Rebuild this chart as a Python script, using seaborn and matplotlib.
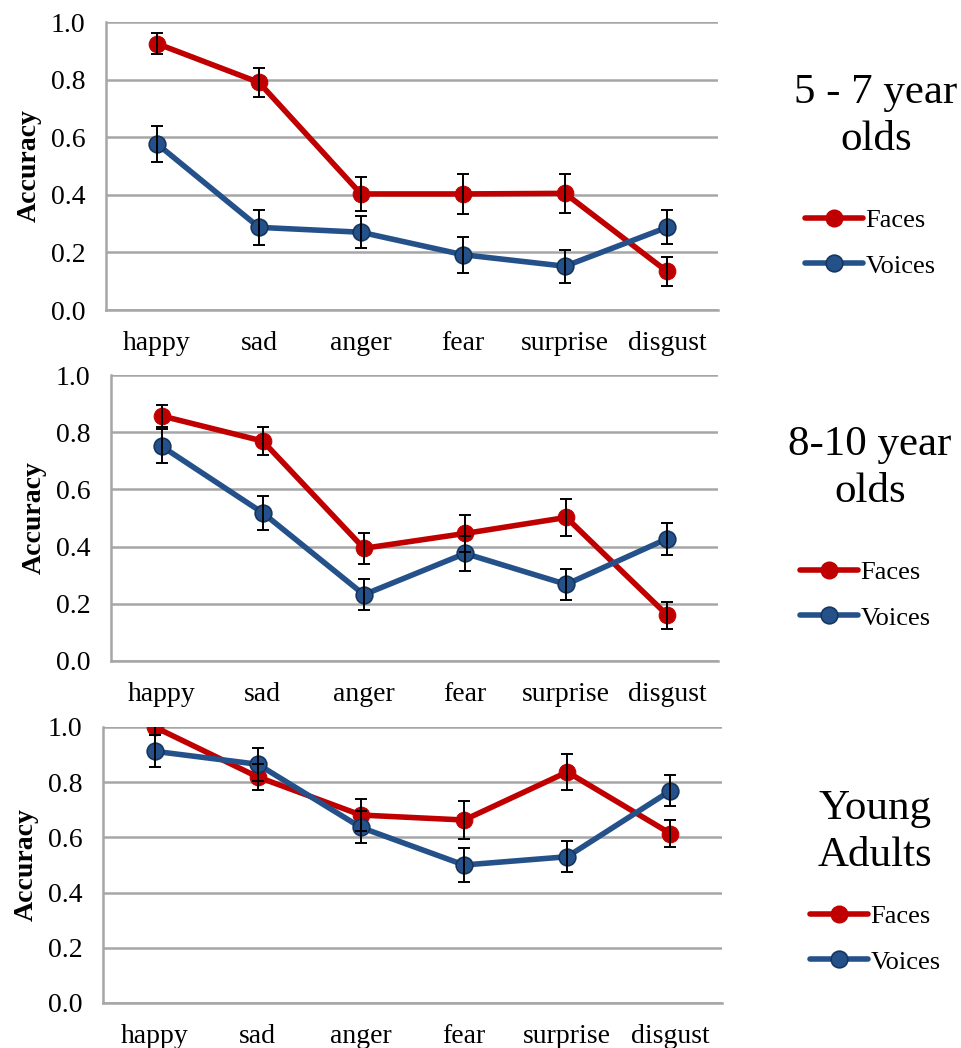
import matplotlib
matplotlib.use("Agg")
import matplotlib.pyplot as plt
from matplotlib.lines import Line2D
import seaborn as sns
import pandas as pd

categories = ["happy", "sad", "anger", "fear", "surprise", "disgust"]
series_names = ["Faces", "Voices"]
panel_titles = ["5 - 7 year\nolds", "8-10 year\nolds", "Young\nAdults"]

faces_5_7 = [0.925, 0.790, 0.403, 0.403, 0.405, 0.134]
faces_5_7_err = [0.037, 0.050, 0.058, 0.069, 0.067, 0.049]
voices_5_7 = [0.577, 0.287, 0.270, 0.192, 0.152, 0.287]
voices_5_7_err = [0.062, 0.061, 0.056, 0.062, 0.058, 0.059]

faces_8_10 = [0.857, 0.769, 0.394, 0.446, 0.502, 0.160]
faces_8_10_err = [0.038, 0.050, 0.055, 0.065, 0.064, 0.048]
voices_8_10 = [0.751, 0.518, 0.232, 0.376, 0.268, 0.428]
voices_8_10_err = [0.060, 0.060, 0.054, 0.060, 0.055, 0.056]

faces_adult = [1.000, 0.819, 0.681, 0.663, 0.837, 0.614]
faces_adult_err = [0.030, 0.048, 0.057, 0.070, 0.066, 0.050]
voices_adult = [0.912, 0.865, 0.636, 0.500, 0.530, 0.769]
voices_adult_err = [0.058, 0.060, 0.058, 0.063, 0.057, 0.057]

panels = [
    (faces_5_7, faces_5_7_err, voices_5_7, voices_5_7_err),
    (faces_8_10, faces_8_10_err, voices_8_10, voices_8_10_err),
    (faces_adult, faces_adult_err, voices_adult, voices_adult_err),
]

sns.set_theme(style="white")
plt.rcParams["font.family"] = ["Liberation Serif", "DejaVu Serif"]
plt.rcParams["text.color"] = "black"
plt.rcParams["axes.labelcolor"] = "black"
plt.rcParams["xtick.color"] = "black"
plt.rcParams["ytick.color"] = "black"

RED = "#C00000"
BLUE = "#25518A"
BLUE_EDGE = "#17365D"
GRID = "#A6A6A6"

W, H = 961, 1048
fig = plt.figure(figsize=(W / 100, H / 100), dpi=100)

# pixel boxes: left, right, top(1.0), bottom(0.0)
boxes = [(106, 718, 22, 310), (111, 718, 375, 661), (103, 722, 727, 1003)]
title_pos = [(876, 116), (870, 468), (875, 832)]
legend_pos = [(805, 243), (800, 595), (810, 939)]

for i, (fv, fe, vv, ve) in enumerate(panels):
    l, r, t, b = boxes[i]
    ax = fig.add_axes([l / W, 1 - b / H, (r - l) / W, (b - t) / H])
    df = pd.DataFrame({
        "emotion": categories * 2,
        "accuracy": list(fv) + list(vv),
        "series": [series_names[0]] * 6 + [series_names[1]] * 6,
    })
    sns.lineplot(data=df, x="emotion", y="accuracy", hue="series", sort=False,
                 palette={"Faces": RED, "Voices": BLUE}, lw=4.0, marker="o",
                 markersize=12, ax=ax, legend=False, zorder=3)
    for ln in ax.get_lines():
        if str(ln.get_color()).lower() == BLUE.lower():
            ln.set_markeredgecolor(BLUE_EDGE)
            ln.set_markeredgewidth(1.2)
        else:
            ln.set_markeredgecolor(RED)
    ax.errorbar(categories, fv, yerr=fe, fmt="none", ecolor="black",
                elinewidth=1.4, capsize=4.5, capthick=1.4, zorder=4)
    ax.errorbar(categories, vv, yerr=ve, fmt="none", ecolor="black",
                elinewidth=1.4, capsize=4.5, capthick=1.4, zorder=4)

    ax.set_xlim(-0.5, 5.5)
    ax.set_ylim(0, 1.0)
    ax.set_yticks([0, 0.2, 0.4, 0.6, 0.8, 1.0])
    ax.set_yticklabels(["0.0", "0.2", "0.4", "0.6", "0.8", "1.0"])
    ax.yaxis.grid(True, color=GRID, lw=1.8, zorder=0)
    ax.set_axisbelow(True)
    for s in ["top", "right"]:
        ax.spines[s].set_visible(False)
    for s in ["left", "bottom"]:
        ax.spines[s].set_color(GRID)
        ax.spines[s].set_linewidth(1.8)
    ax.tick_params(axis="both", length=0, labelsize=20, colors="black")
    ax.tick_params(axis="y", pad=15)
    ax.tick_params(axis="x", pad=15)
    ax.set_xlabel("")
    ax.set_ylabel("Accuracy", fontsize=20, fontweight="bold", labelpad=6,
                  color="black")

    tx, ty = title_pos[i]
    fig.text(tx / W, 1 - ty / H, panel_titles[i], ha="center", va="center",
             fontsize=31, linespacing=1.3, multialignment="center",
             color="black")

    handles = [
        Line2D([], [], color=RED, lw=4.0, marker="o", markersize=12,
               markeredgecolor=RED),
        Line2D([], [], color=BLUE, lw=4.0, marker="o", markersize=12,
               markeredgecolor=BLUE_EDGE, markeredgewidth=1.2),
    ]
    lx, ly = legend_pos[i]
    fig.legend(handles, series_names, loc="center left",
               bbox_to_anchor=(lx / W, 1 - ly / H), frameon=False,
               fontsize=19, handlelength=2.2, handletextpad=0.1,
               labelspacing=0.85, borderaxespad=0, borderpad=0,
               labelcolor="black")

fig.savefig("out.png", dpi=100)
